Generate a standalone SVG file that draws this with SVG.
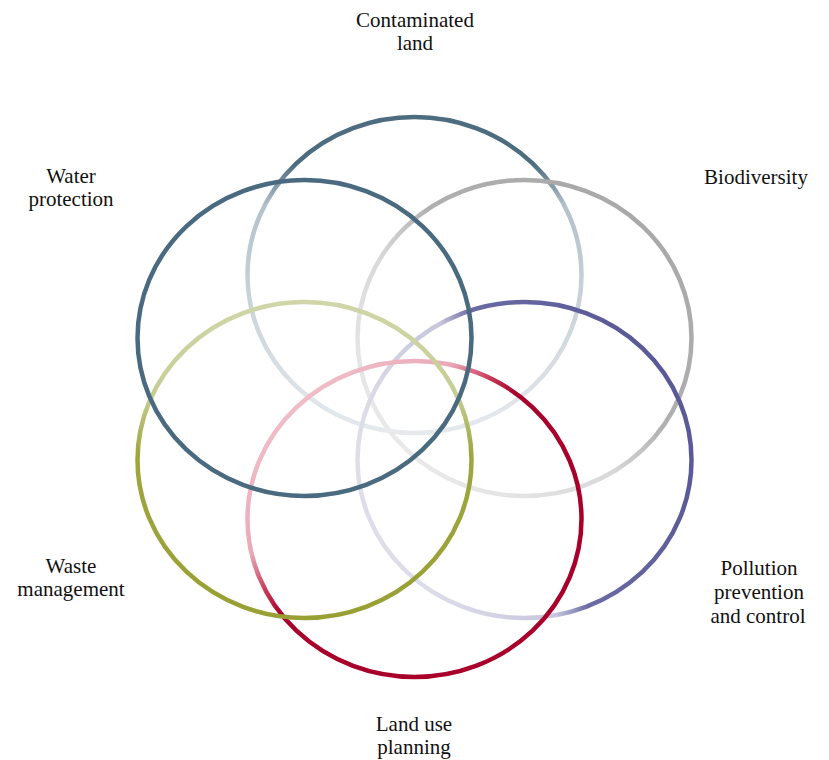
<svg xmlns="http://www.w3.org/2000/svg" width="829" height="760" viewBox="0 0 829 760">
<style>
.ring{fill:none;stroke-width:4.5}
.lbl{font-family:"Liberation Serif","Times New Roman",serif;font-size:21px;fill:#111111;text-anchor:middle}
</style>
<defs>
<linearGradient id="gTop" x1="0" y1="0" x2="0" y2="1">
<stop offset="0" stop-color="#4d6c80"/><stop offset="0.15" stop-color="#4d6c80"/><stop offset="0.28" stop-color="#b3c2cb"/><stop offset="1" stop-color="#e6eaed"/>
</linearGradient>
<linearGradient id="gBio" x1="0.9" y1="0.1" x2="0.1" y2="0.9">
<stop offset="0" stop-color="#a8a8a8"/><stop offset="0.42" stop-color="#b0b0b0"/><stop offset="0.6" stop-color="#d8d8d8"/><stop offset="1" stop-color="#ececec"/>
</linearGradient>
<linearGradient id="gPol" x1="0.1" y1="0.65" x2="0.9" y2="0.35">
<stop offset="0" stop-color="#dedeea"/><stop offset="0.4" stop-color="#c6c6dd"/><stop offset="0.52" stop-color="#6a6aa4"/><stop offset="1" stop-color="#5a5a98"/>
</linearGradient>
<linearGradient id="gLand" x1="0" y1="0" x2="1" y2="1">
<stop offset="0" stop-color="#f5cdd6"/><stop offset="0.31" stop-color="#eaa9b8"/><stop offset="0.39" stop-color="#c83a58"/><stop offset="0.45" stop-color="#a8002a"/><stop offset="1" stop-color="#a8002a"/>
</linearGradient>
<linearGradient id="gWaste" x1="0" y1="0" x2="0" y2="1">
<stop offset="0" stop-color="#d0d6a8"/><stop offset="0.3" stop-color="#c6cd92"/><stop offset="0.48" stop-color="#9ea63e"/><stop offset="1" stop-color="#98a034"/>
</linearGradient>
</defs>
<g id="contaminated-land">
<ellipse class="ring" cx="414.5" cy="275" rx="167" ry="158" stroke="url(#gTop)"/>
<text class="lbl" x="415" y="27">Contaminated</text>
<text class="lbl" x="415" y="50">land</text>
</g>
<g id="biodiversity">
<ellipse class="ring" cx="524.5" cy="338" rx="167" ry="158" stroke="url(#gBio)"/>
<text class="lbl" x="756" y="184">Biodiversity</text>
</g>
<g id="pollution">
<ellipse class="ring" cx="524.5" cy="460" rx="167" ry="158" stroke="url(#gPol)"/>
<text class="lbl" x="759" y="575">Pollution</text>
<text class="lbl" x="759" y="599">prevention</text>
<text class="lbl" x="758" y="623">and control</text>
</g>
<g id="land-use">
<ellipse class="ring" cx="414.5" cy="519" rx="167" ry="158" stroke="url(#gLand)"/>
<text class="lbl" x="414" y="731">Land use</text>
<text class="lbl" x="414" y="754">planning</text>
</g>
<g id="waste">
<ellipse class="ring" cx="304.5" cy="460" rx="167" ry="158" stroke="url(#gWaste)"/>
<text class="lbl" x="71" y="573">Waste</text>
<text class="lbl" x="71" y="596">management</text>
</g>
<g id="water">
<ellipse class="ring" cx="304.5" cy="338" rx="167" ry="158" stroke="#4a6a7f"/>
<text class="lbl" x="71" y="183">Water</text>
<text class="lbl" x="71" y="206">protection</text>
</g>
<g id="connectors"/>
</svg>
